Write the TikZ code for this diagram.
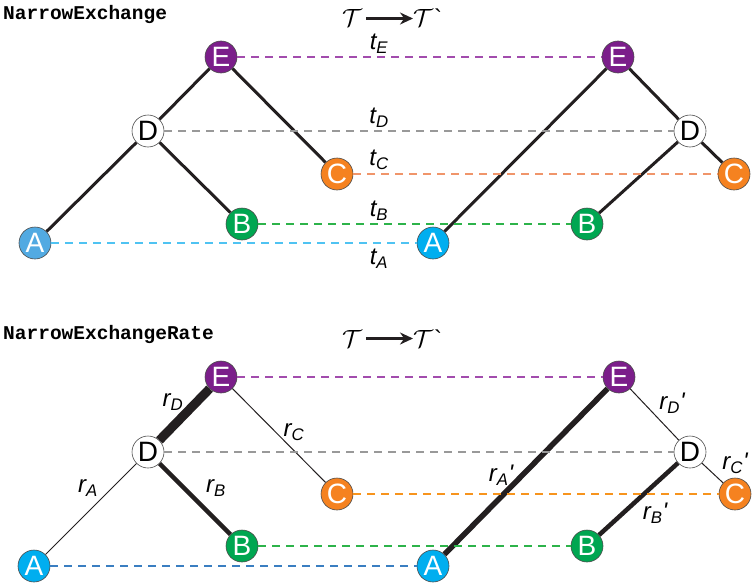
\documentclass[tikz,border=0pt]{standalone}
\usepackage{fontspec}
\setmainfont{Liberation Sans}
\newfontfamily\codefont{Liberation Mono}
\usetikzlibrary{arrows.meta}
\newcommand{\gravetick}{{\fontsize{24}{24}\selectfont\kern1pt\textasciigrave}}
\begin{document}
\begin{tikzpicture}[x=1pt,y=-1pt,
  nd/.style={circle,draw=black!70,line width=0.6pt,minimum size=32pt,inner sep=0pt,font=\fontsize{28}{28}\selectfont,text=white},
  nE/.style={nd,fill=ePurple},
  nD/.style={nd,fill=white,text=black},
  nC/.style={nd,fill=cOrange},
  nB/.style={nd,fill=bGreen},
  nA/.style={nd,fill=aBlue},
  nAl/.style={nd,fill=aLight},
  edge/.style={draw=edgeBlack,line width=3pt},
  thin edge/.style={draw=edgeBlack,line width=1pt},
  mid edge/.style={draw=edgeBlack,line width=4.5pt},
  thick edge/.style={draw=edgeBlack,line width=5.5pt},
  vthick edge/.style={draw=edgeBlack,line width=9pt},
  tl/.style={dash pattern=on 8pt off 6pt,line width=1.3pt},
  lab/.style={font=\fontsize{24}{24}\selectfont\itshape,inner sep=0pt},
  title/.style={font=\codefont\bfseries\fontsize{19.5}{19.5}\selectfont,anchor=west,inner sep=0pt},
  tt/.style={font=\fontsize{30}{30}\selectfont,inner sep=0pt},
  harrow/.style={draw=edgeBlack,line width=2.2pt,-{Stealth[length=13pt,width=12pt]}}
]
\definecolor{ePurple}{HTML}{7B1E8A}
\definecolor{cOrange}{HTML}{F58220}
\definecolor{bGreen}{HTML}{00A651}
\definecolor{aBlue}{HTML}{00AEEF}
\definecolor{aLight}{HTML}{52AAE2}
\definecolor{edgeBlack}{HTML}{231F20}
\definecolor{lnE}{HTML}{A24CAD}
\definecolor{lnD}{HTML}{999999}
\definecolor{lnC}{HTML}{F0956A}
\definecolor{lnB}{HTML}{2DB34A}
\definecolor{lnA}{HTML}{4FC3F2}
\definecolor{lnC2}{HTML}{F7941D}
\definecolor{lnA2}{HTML}{3A7EC1}
\useasboundingbox (0,0) rectangle (754,586);

% ---------- top panel ----------
\node[title] (t1) at (3,15) {NarrowExchange};
\node[tt,anchor=base] (Ta1) at (352,27) {$\mathcal{T}$};
\node[tt,anchor=base west] (Tb1) at (413,27) {$\mathcal{T}$\gravetick};
\coordinate (Ta1s) at ([xshift=4pt]Ta1.east);
\draw[harrow] (Ta1s) -- (Tb1.west |- Ta1s);

\node[nE] (E1) at (221,57) {E};
\node[nD] (D1) at (148,131) {D};
\node[nC] (C1) at (337,174) {C};
\node[nB] (B1) at (242,224) {B};
\node[nAl] (A1) at (35,243) {A};

\node[nE] (E2) at (618,57) {E};
\node[nD] (D2) at (690,131) {D};
\node[nC] (C2) at (734,174) {C};
\node[nB] (B2) at (587,224) {B};
\node[nA] (A2) at (433,243) {A};

\draw[edge] (E1) -- (D1);
\draw[edge] (D1) -- (A1);
\draw[edge] (D1) -- (B1);
\draw[edge] (E1) -- (C1);
\draw[edge] (E2) -- (A2);
\draw[edge] (E2) -- (D2);
\draw[edge] (D2) -- (C2);
\draw[edge] (D2) -- (B2);

\draw[tl,draw=lnE] (E1) -- (E2);
\draw[tl,draw=lnD] (D1) -- (D2);
\draw[tl,draw=lnC] (C1) -- (C2);
\draw[tl,draw=lnB] (B1) -- (B2);
\draw[tl,draw=lnA] (A1) -- (A2);

\node[lab] (tE) at (379,44) {t\textsubscript{E}};
\node[lab] (tD) at (379,118) {t\textsubscript{D}};
\node[lab] (tC) at (379,160) {t\textsubscript{C}};
\node[lab] (tB) at (379,211) {t\textsubscript{B}};
\node[lab] (tA) at (379,259) {t\textsubscript{A}};

% ---------- bottom panel ----------
\node[title] (t2) at (3,334) {NarrowExchangeRate};
\node[tt,anchor=base] (Ta2) at (352,347) {$\mathcal{T}$};
\node[tt,anchor=base west] (Tb2) at (413,347) {$\mathcal{T}$\gravetick};
\coordinate (Ta2s) at ([xshift=4pt]Ta2.east);
\draw[harrow] (Ta2s) -- (Tb2.west |- Ta2s);

\node[nE] (E3) at (221,377) {E};
\node[nD] (D3) at (148,452) {D};
\node[nC] (C3) at (337,494) {C};
\node[nB] (B3) at (242,546) {B};
\node[nA] (A3) at (34,566) {A};

\node[nE] (E4) at (619,377) {E};
\node[nD] (D4) at (690,452) {D};
\node[nC] (C4) at (735,494) {C};
\node[nB] (B4) at (587,546) {B};
\node[nA] (A4) at (433,566) {A};

\draw[vthick edge] (E3) -- (D3);
\draw[thin edge] (D3) -- (A3);
\draw[mid edge] (D3) -- (B3);
\draw[thin edge] (E3) -- (C3);
\draw[thick edge] (E4) -- (A4);
\draw[thin edge] (E4) -- (D4);
\draw[thin edge] (D4) -- (C4);
\draw[mid edge] (D4) -- (B4);

\draw[tl,draw=lnE] (E3) -- (E4);
\draw[tl,draw=lnD] (D3) -- (D4);
\draw[tl,draw=lnC2] (C3) -- (C4);
\draw[tl,draw=lnB] (B3) -- (B4);
\draw[tl,draw=lnA2] (A3) -- (A4);

\node[lab] (rD) at (173,402) {r\textsubscript{D}};
\node[lab] (rC) at (294,432) {r\textsubscript{C}};
\node[lab] (rB) at (216,488) {r\textsubscript{B}};
\node[lab] (rA) at (88,488) {r\textsubscript{A}};
\node[lab] (rD2) at (672,403) {r\textsubscript{D}\textquotesingle};
\node[lab] (rC2) at (735,463) {r\textsubscript{C}\textquotesingle};
\node[lab] (rA2) at (501,475) {r\textsubscript{A}\textquotesingle};
\node[lab] (rB2) at (655,513) {r\textsubscript{B}\textquotesingle};
\end{tikzpicture}
\end{document}
